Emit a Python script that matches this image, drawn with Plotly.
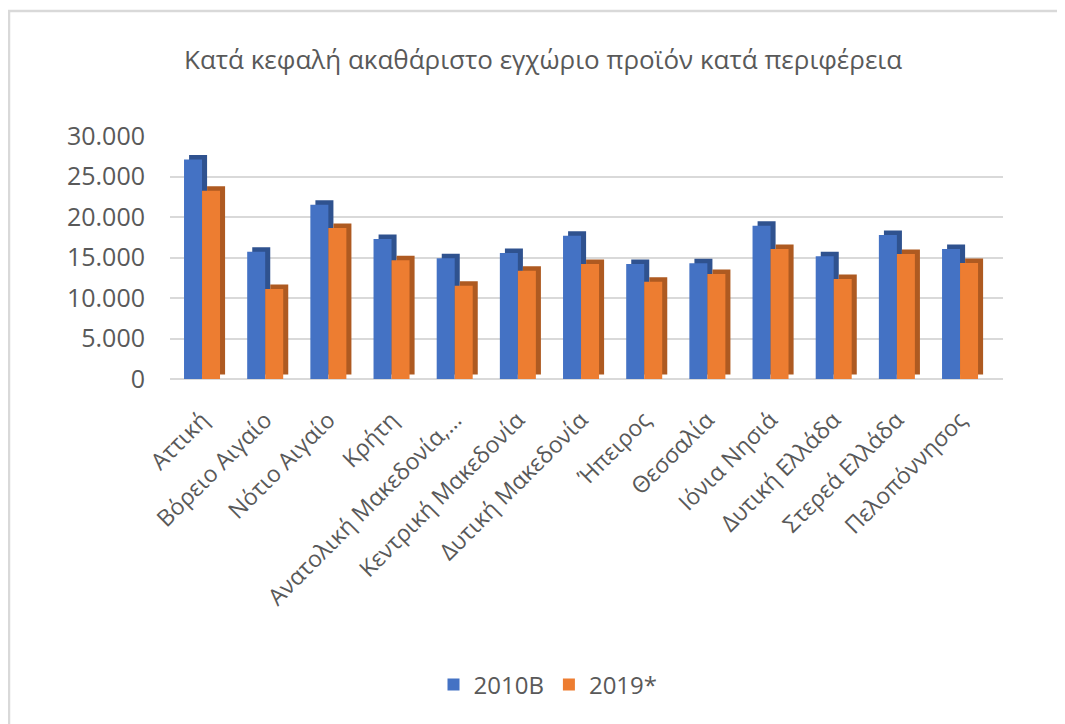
import plotly.graph_objects as go

regions = ["Αττική", "Βόρειο Αιγαίο", "Νότιο Αιγαίο", "Κρήτη", "Ανατολική Μακεδονία,…",
           "Κεντρική Μακεδονία", "Δυτική Μακεδονία", "Ήπειρος", "Θεσσαλία", "Ιόνια Νησιά",
           "Δυτική Ελλάδα", "Στερεά Ελλάδα", "Πελοπόννησος"]
values_2010 = [27100, 15720, 21520, 17280, 14900, 15560, 17690, 14200, 14280, 18930, 15150, 17780, 16050]
values_2019 = [23250, 11110, 18640, 14650, 11520, 13370, 14200, 12010, 12960, 16050, 12350, 15430, 14320]
series_names = ["2010B", "2019*"]
y_ticks = [0, 5000, 10000, 15000, 20000, 25000, 30000]

# The page body adds an 8px margin, so the figure is sized and laid out to compensate.
OFF = 8
W, H = 1065 - OFF, 724 - OFF
L, R, T, B = 170 - OFF, 1003 - OFF, 136 - OFF, 379 - OFF  # plot area in figure pixels

blue, blue_dark = "#4472c4", "#2f528f"
orange, orange_dark = "#ed7d31", "#ae5a21"
grey_text = "#595959"

bw = 0.285      # bar front width (category units)
dx = 0.08       # depth shift to the right
dy = 556        # depth shift upward (value units)

fig = go.Figure()
for vals, name, col, dark, off in [(values_2010, series_names[0], blue, blue_dark, -bw),
                                   (values_2019, series_names[1], orange, orange_dark, 0.0)]:
    fig.add_trace(go.Bar(x=regions, y=vals, base=dy, width=bw, offset=off + dx,
                         marker=dict(color=dark, line=dict(width=0)),
                         showlegend=False, hoverinfo="skip"))
    fig.add_trace(go.Bar(x=regions, y=vals, width=bw, offset=off, name=name,
                         marker=dict(color=col, line=dict(width=0))))

def px_x(p):
    return (p - L) / (R - L)

def px_y(p):
    return (B - p) / (B - T)

fig.update_layout(
    width=W, height=H,
    margin=dict(l=L, r=W - R, t=T, b=H - B, autoexpand=False),
    barmode="overlay",
    separators=",.",
    plot_bgcolor="white", paper_bgcolor="white",
    font=dict(family="Open Sans, Noto Sans, sans-serif", color=grey_text),
    title=dict(text="Κατά κεφαλή ακαθάριστο εγχώριο προϊόν κατά περιφέρεια",
               x=(543 - OFF) / W, xref="container", xanchor="center",
               y=1 - (60 - OFF) / H, yref="container", yanchor="middle",
               font=dict(family="Open Sans, sans-serif", size=26, color=grey_text)),
    xaxis=dict(range=[-0.507, 12.68], tickangle=-45, showgrid=False, showline=False,
               ticks="", automargin=False, ticklabelstandoff=22,
               tickfont=dict(size=23, color=grey_text)),
    yaxis=dict(range=[0, 30000], tickvals=y_ticks, tickformat=",d",
               showgrid=True, gridcolor="#d9d9d9", gridwidth=1.5,
               zeroline=True, zerolinecolor="#d9d9d9", zerolinewidth=1.5,
               showline=False, ticks="", ticklabelstandoff=24, automargin=False,
               tickfont=dict(size=25, color=grey_text)),
    legend=dict(orientation="h", xref="container", yref="container",
                x=(548 - OFF) / W, xanchor="center", y=1 - (685 - OFF) / H, yanchor="middle",
                font=dict(size=24, color=grey_text), itemwidth=30,
                traceorder="normal"),
    shapes=[dict(type="path", xref="paper", yref="paper",
                 path=f"M {px_x(9 - OFF)},{px_y(H + 5)} L {px_x(9 - OFF)},{px_y(11 - OFF)} L {px_x(W + 5)},{px_y(11 - OFF)}",
                 line=dict(color="#d9d9d9", width=2.5), layer="below")],
)

fig.write_html("out.html")
